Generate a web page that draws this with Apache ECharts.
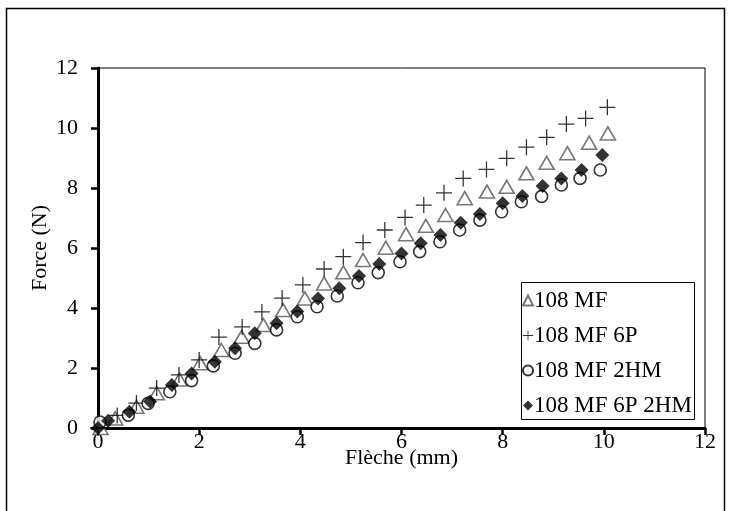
<!DOCTYPE html>
<html>
<head>
<meta charset="utf-8">
<script src="https://cdn.jsdelivr.net/npm/echarts@6/dist/echarts.min.js"></script>
<style>
  html, body { margin: 0; padding: 0; background: #fff; }
  #chart { width: 731px; height: 511px; }
</style>
</head>
<body>
<div id="chart"></div>
<script>
// series names
var seriesNames = ['108 MF', '108 MF 6P', '108 MF 2HM', '108 MF 6P 2HM'];

// 108 MF (triangles)
var mfX = [0.05, 0.34, 0.76, 1.16, 1.61, 2.02, 2.44, 2.84, 3.27, 3.66, 4.09, 4.47, 4.85, 5.24, 5.69, 6.09, 6.48, 6.87, 7.25, 7.69, 8.08, 8.47, 8.87, 9.28, 9.71, 10.08];
var mfY = [0, 0.32, 0.71, 1.16, 1.62, 2.16, 2.6, 3.04, 3.43, 3.93, 4.32, 4.82, 5.19, 5.6, 6.01, 6.46, 6.74, 7.1, 7.66, 7.88, 8.04, 8.49, 8.84, 9.16, 9.51, 9.82];

// 108 MF 6P (plus)
var mf6pX = [0, 0.38, 0.76, 1.16, 1.6, 2.0, 2.39, 2.85, 3.24, 3.64, 4.05, 4.47, 4.85, 5.24, 5.67, 6.07, 6.44, 6.84, 7.22, 7.68, 8.08, 8.47, 8.87, 9.26, 9.64, 10.07];
var mf6pY = [0, 0.42, 0.83, 1.33, 1.77, 2.27, 3.03, 3.37, 3.87, 4.33, 4.77, 5.3, 5.71, 6.18, 6.6, 7.02, 7.43, 7.84, 8.32, 8.62, 8.99, 9.36, 9.69, 10.13, 10.32, 10.69];

// 108 MF 2HM (circles)
var mf2hmX = [0.04, 0.6, 0.99, 1.42, 1.85, 2.28, 2.71, 3.1, 3.53, 3.94, 4.33, 4.73, 5.14, 5.54, 5.97, 6.36, 6.76, 7.15, 7.55, 7.98, 8.37, 8.77, 9.16, 9.53, 9.93];
var mf2hmY = [0.2, 0.43, 0.82, 1.21, 1.58, 2.07, 2.49, 2.82, 3.27, 3.71, 4.04, 4.4, 4.84, 5.18, 5.54, 5.88, 6.21, 6.6, 6.93, 7.21, 7.54, 7.72, 8.1, 8.32, 8.6];

// 108 MF 6P 2HM (diamonds)
var mf6p2hmX = [0, 0.2, 0.62, 1.03, 1.46, 1.85, 2.31, 2.71, 3.1, 3.53, 3.94, 4.35, 4.77, 5.16, 5.56, 6.0, 6.38, 6.77, 7.17, 7.55, 8.0, 8.39, 8.79, 9.16, 9.56, 9.97];
var mf6p2hmY = [0, 0.24, 0.54, 0.88, 1.43, 1.82, 2.21, 2.66, 3.16, 3.49, 3.88, 4.32, 4.66, 5.07, 5.47, 5.82, 6.16, 6.43, 6.84, 7.13, 7.49, 7.73, 8.07, 8.32, 8.6, 9.1];

function pairs(xs, ys) {
    return xs.map(function (x, i) { return [x, ys[i]]; });
}

var font = '"Liberation Serif", "Times New Roman", serif';
var plusPath = 'path://M9.2,0h1.6v9.2h9.2v1.6h-9.2v9.2h-1.6v-9.2h-9.2v-1.6h9.2z';

var myChart = echarts.init(document.getElementById('chart'), null, { renderer: 'canvas' });

var option = {
    backgroundColor: '#fff',
    animation: false,
    textStyle: { fontFamily: font, color: '#000' },
    graphic: [
        {
            type: 'rect',
            shape: { x: 6.5, y: 8.5, width: 718, height: 520 },
            style: { fill: 'none', stroke: '#000', lineWidth: 1.5 },
            silent: true
        },
        {
            type: 'rect',
            shape: { x: 521.5, y: 282.5, width: 173, height: 137 },
            style: { fill: '#fff', stroke: '#000', lineWidth: 1 },
            z: 5,
            silent: true
        }
    ],
    grid: {
        left: 98, top: 68, width: 607, height: 360,
        show: true, borderColor: '#000', borderWidth: 1, backgroundColor: 'transparent'
    },
    legend: {
        orient: 'vertical',
        left: 522, top: 289,
        padding: 0,
        itemWidth: 10, itemHeight: 10,
        itemGap: 12,
        z: 10,
        textStyle: { fontFamily: font, fontSize: 23, lineHeight: 23, color: '#000', padding: [0, 0, 0, -4] },
        data: seriesNames
    },
    xAxis: {
        type: 'value',
        min: 0, max: 12, interval: 2,
        name: 'Flèche (mm)',
        nameLocation: 'middle',
        nameGap: 19,
        nameMoveOverlap: false,
        nameTextStyle: { fontFamily: font, fontSize: 22, color: '#000' },
        axisLine: { onZero: false, lineStyle: { color: '#000', width: 3 } },
        axisTick: { show: true, inside: false, length: 7, lineStyle: { color: '#000', width: 2.5 } },
        axisLabel: { margin: 3, fontFamily: font, fontSize: 22, color: '#000' },
        splitLine: { show: false }
    },
    yAxis: {
        type: 'value',
        min: 0, max: 12, interval: 2,
        name: 'Force (N)',
        nameLocation: 'middle',
        nameGap: 47,
        nameMoveOverlap: false,
        nameTextStyle: { fontFamily: font, fontSize: 22, color: '#000' },
        axisLine: { onZero: false, lineStyle: { color: '#000', width: 3 } },
        axisTick: { show: true, inside: false, length: 7, lineStyle: { color: '#000', width: 2.5 } },
        axisLabel: { margin: 20, fontFamily: font, fontSize: 22, color: '#000' },
        splitLine: { show: false }
    },
    series: [
        {
            name: seriesNames[0],
            type: 'scatter',
            symbol: 'triangle',
            symbolSize: [15, 13],
            itemStyle: { color: '#fff', borderColor: '#555', borderWidth: 1.6 },
            data: pairs(mfX, mfY)
        },
        {
            name: seriesNames[1],
            type: 'scatter',
            symbol: plusPath,
            symbolSize: 16,
            itemStyle: { color: '#000' },
            data: pairs(mf6pX, mf6pY)
        },
        {
            name: seriesNames[2],
            type: 'scatter',
            symbol: 'circle',
            symbolSize: 12,
            itemStyle: { color: '#fff', borderColor: '#000', borderWidth: 1.6 },
            data: pairs(mf2hmX, mf2hmY)
        },
        {
            name: seriesNames[3],
            type: 'scatter',
            symbol: 'diamond',
            symbolSize: 14,
            itemStyle: { color: '#000' },
            data: pairs(mf6p2hmX, mf6p2hmY)
        }
    ]
};
myChart.setOption(option);
</script>
</body>
</html>
